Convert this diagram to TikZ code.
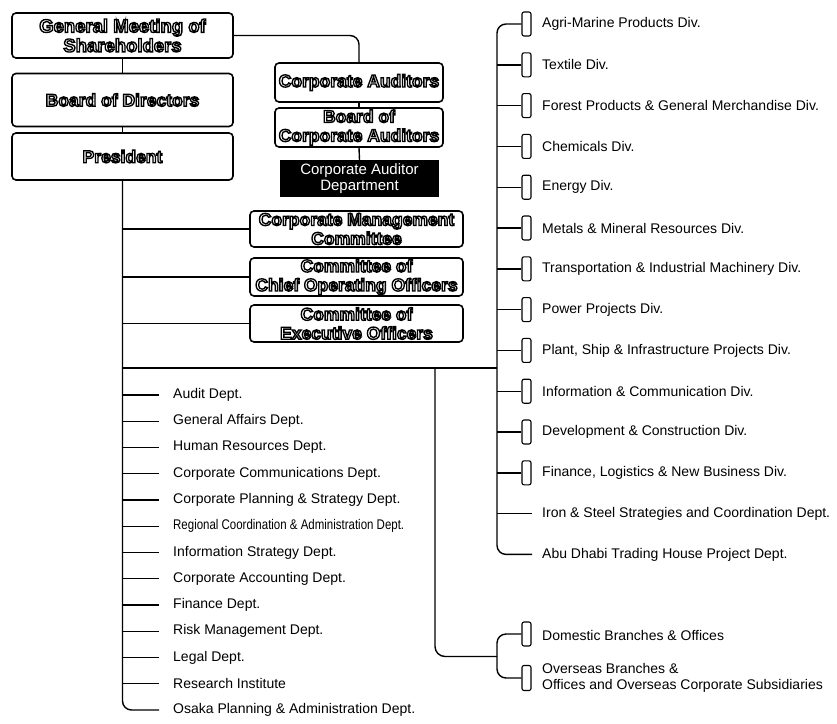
\documentclass[tikz,border=0pt]{standalone}
\usepackage{fontspec}
\usepackage{graphicx}
\setmainfont{Liberation Sans}
\usetikzlibrary{calc}
% hollow letters: the glyphs are stroked only (text render mode 1)
\newcommand\olt[1]{\special{pdf:literal direct 1 Tr 1.35 w}#1\special{pdf:literal direct 0 Tr}}

\tikzset{
  conn/.style={line width=1.4pt, line join=round},
  govbox/.style={draw, line width=1.6pt, rounded corners=4pt, inner sep=0pt,
    align=center, font=\fontsize{17.5}{19}\selectfont\bfseries},
  darkbox/.style={fill=black, inner sep=0pt, align=center, text=white,
    font=\fontsize{15}{16.5}\selectfont},
  bracket/.style={draw, line width=1.1pt, rounded corners=2pt, inner sep=0pt,
    minimum width=9pt, minimum height=24pt},
  label/.style={anchor=west, inner sep=0pt, font=\fontsize{14}{15.5}\selectfont},
}

\begin{document}
\begin{tikzpicture}[x=1pt,y=-1pt]
\useasboundingbox (0,0) rectangle (837,723);

% governance column
\node[govbox, minimum width=221pt, minimum height=45pt,
  font=\fontsize{18.5}{19.5}\selectfont\bfseries] (gm) at (122.5,35.5)
  {\olt{General Meeting of}\\\olt{Shareholders}};
\node[govbox, minimum width=221pt, minimum height=53pt] (board) at (122.5,100)
  {\olt{Board of Directors}};
\node[govbox, minimum width=221pt, minimum height=47pt] (pres) at (122.5,156.5)
  {\olt{President}};

% auditors
\node[govbox, minimum width=168pt, minimum height=39pt] (ca) at (359,82.5)
  {\olt{Corporate Auditors}};
\node[govbox, minimum width=168pt, minimum height=39pt] (bca) at (359,127.5)
  {\olt{Board of}\\\olt{Corporate Auditors}};
\node[darkbox, minimum width=159pt, minimum height=37pt] (cad) at (359.5,178.5)
  {Corporate Auditor\\Department};

% committees
\node[govbox, minimum width=213pt, minimum height=36pt] (cmc) at (356.5,229)
  {\olt{Corporate Management}\\\olt{Committee}};
\node[govbox, minimum width=213pt, minimum height=38pt] (coo) at (356.5,277)
  {\olt{Committee of}\\\olt{Chief Operating Officers}};
\node[govbox, minimum width=213pt, minimum height=37pt] (ceo) at (356.5,323.5)
  {\olt{Committee of}\\\olt{Executive Officers}};

% corporate staff departments
\foreach \i/\t in {0/Audit Dept., 1/General Affairs Dept., 2/Human Resources Dept.,
  3/Corporate Communications Dept., 4/Corporate Planning \& Strategy Dept.,
  5/{\scalebox{0.82}[1]{Regional Coordination \& Administration Dept.}},
  6/Information Strategy Dept., 7/Corporate Accounting Dept., 8/Finance Dept.,
  9/Risk Management Dept., 10/Legal Dept., 11/Research Institute,
  12/Osaka Planning \& Administration Dept.}
  \node[label] (s\i) at (173,395+26.25*\i) {\t};

% business divisions
\foreach \i/\t in {0/Agri-Marine Products Div., 1/Textile Div.,
  2/Forest Products \& General Merchandise Div., 3/Chemicals Div., 4/Energy Div.,
  5/Metals \& Mineral Resources Div., 6/Transportation \& Industrial Machinery Div.,
  7/Power Projects Div., 8/{Plant, Ship \& Infrastructure Projects Div.},
  9/Information \& Communication Div., 10/Development \& Construction Div.,
  11/{Finance, Logistics \& New Business Div.},
  12/Iron \& Steel Strategies and Coordination Dept.,
  13/Abu Dhabi Trading House Project Dept.}
  \node[label] (d\i) at (542,24+40.8*\i) {\t};
\foreach \i in {0,...,11}
  \node[bracket] (b\i) at (526.5,24+40.8*\i) {};

% branches and offices
\node[bracket] (bd) at (526.5,634) {};
\node[bracket, minimum height=25pt] (bo) at (526.5,678) {};
\node[label] (dom) at (542,635) {Domestic Branches \& Offices};
\node[label, align=left] (ovs) at (542,678)
  {Overseas Branches \&\\Offices and Overseas Corporate Subsidiaries};

% junction points of the trunk lines
\coordinate (rtrunk) at (497,24);
\coordinate (hleft) at (123,368);
\coordinate (hright) at (497,368);
\coordinate (bdrop) at (435,368);
\coordinate (fork) at (497,656.5);

% governance links
\draw[conn] (gm.south) -- (board.north);
\draw[conn] (board.south) -- (pres.north);
\draw[conn, rounded corners=9pt] (gm.east) -| (ca.north);
\draw[conn] (ca.south) -- (bca.north);
\draw[conn] (bca.south) -- (cad.north);

% president trunk with staff departments
\draw[conn, rounded corners=9pt] (pres.south) -- (pres.south |- s12.west)
  -- ($(s12.west)+(-14,0)$);
\foreach \i in {0,...,11}
  \draw[conn] (pres.south |- s\i.west) -- ($(s\i.west)+(-14,0)$);
\foreach \n in {cmc,coo,ceo}
  \draw[conn] (pres.south |- \n.west) -- (\n.west);
\draw[conn] (hleft) -- (hright);

% division trunk
\draw[conn, rounded corners=9pt] (b0.west) -- (rtrunk |- b0.west)
  -- (rtrunk |- d13.west) -- ($(d13.west)+(-10,0)$);
\foreach \i in {1,...,11}
  \draw[conn] (rtrunk |- b\i.west) -- (b\i.west);
\draw[conn] (rtrunk |- d12.west) -- ($(d12.west)+(-10,0)$);

% branches and offices link
\draw[conn, rounded corners=10pt] (bdrop) |- (fork);
\draw[conn, rounded corners=9pt] (bd.west) -| (fork) |- (bo.west);
\end{tikzpicture}
\end{document}
